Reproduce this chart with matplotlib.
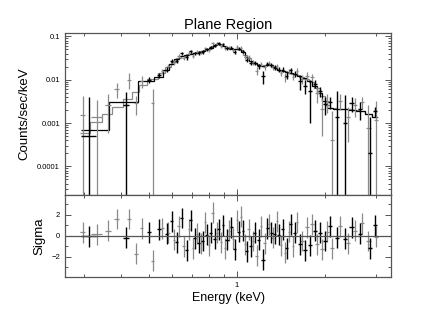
import matplotlib
matplotlib.use("Agg")
import matplotlib.pyplot as plt
import numpy as np
from matplotlib.ticker import LogLocator, MultipleLocator, NullFormatter, FixedLocator, FixedFormatter

plt.rcParams["font.family"] = ["Liberation Sans", "DejaVu Sans"]

# dataset 1 (black)
e1 = [0.311, 0.417, 0.500, 0.541, 0.576, 0.599, 0.622, 0.648, 0.674, 0.696,
      0.718, 0.741, 0.764, 0.789, 0.814, 0.841, 0.868, 0.896, 0.925, 0.955,
      0.984, 1.016, 1.049, 1.082, 1.117, 1.152, 1.190, 1.228, 1.268, 1.309,
      1.349, 1.392, 1.437, 1.483, 1.531, 1.580, 1.643, 1.710, 1.778, 1.850,
      1.924, 2.00, 2.08, 2.20, 2.34, 2.47, 2.64, 2.85, 2.97]
de1 = [0.018, 0.010, 0.008, 0.008, 0.007, 0.007, 0.007, 0.008, 0.008, 0.008,
       0.008, 0.009, 0.009, 0.009, 0.009, 0.010, 0.010, 0.010, 0.011, 0.011,
       0.011, 0.012, 0.012, 0.013, 0.013, 0.014, 0.014, 0.015, 0.015, 0.016,
       0.016, 0.017, 0.017, 0.018, 0.018, 0.019, 0.025, 0.025, 0.026, 0.027,
       0.028, 0.029, 0.030, 0.040, 0.040, 0.045, 0.050, 0.050, 0.040]
f1 = [5.0e-4, 2.6e-3, 1.0e-2, 1.26e-2, 1.70e-2, 2.73e-2, 2.76e-2, 4.07e-2, 3.27e-2, 4.57e-2,
      4.07e-2, 4.15e-2, 4.46e-2, 5.06e-2, 5.65e-2, 6.15e-2, 6.87e-2, 6.64e-2, 5.30e-2, 5.51e-2,
      4.40e-2, 5.20e-2, 4.48e-2, 2.87e-2, 2.45e-2, 2.48e-2, 2.04e-2, 1.20e-2, 2.34e-2, 2.22e-2,
      1.96e-2, 1.72e-2, 1.71e-2, 1.25e-2, 1.64e-2, 1.38e-2, 9.2e-3, 7.2e-3, 5.5e-3, 8.1e-3,
      5.4e-3, 2.7e-3, 3.1e-3, 1.4e-3, 1.0e-3, 2.9e-3, 2.1e-3, 2.0e-4, 1.88e-3]
err1 = [3.5e-3, 2.6e-3, 1.5e-3, 1.8e-3, 2.2e-3, 2.8e-3, 3.2e-3, 3.5e-3, 3.8e-3, 3.9e-3,
        4.0e-3, 4.2e-3, 4.4e-3, 4.6e-3, 5.0e-3, 5.5e-3, 5.6e-3, 5.4e-3, 5.0e-3, 4.8e-3,
        4.7e-3, 4.7e-3, 4.2e-3, 3.5e-3, 3.0e-3, 2.8e-3, 2.6e-3, 4.0e-3, 2.6e-3, 2.6e-3,
        2.4e-3, 2.3e-3, 2.2e-3, 2.2e-3, 2.1e-3, 2.1e-3, 3.5e-3, 2.5e-3, 4.5e-3, 1.8e-3,
        1.4e-3, 1.2e-3, 1.0e-3, 4.0e-3, 3.5e-3, 1.1e-3, 9.0e-4, 1.2e-3, 5.0e-4]
m1 = [6.8e-4, 3.1e-3, 9.5e-3, 1.15e-2, 1.66e-2, 2.34e-2, 2.95e-2, 3.47e-2, 3.80e-2, 3.98e-2,
      4.17e-2, 4.42e-2, 4.68e-2, 5.01e-2, 5.50e-2, 6.31e-2, 6.53e-2, 6.10e-2, 5.50e-2, 5.13e-2,
      5.01e-2, 5.01e-2, 4.27e-2, 3.39e-2, 2.75e-2, 2.40e-2, 2.14e-2, 2.11e-2, 2.16e-2, 2.14e-2,
      1.91e-2, 1.70e-2, 1.58e-2, 1.51e-2, 1.41e-2, 1.32e-2, 1.20e-2, 1.07e-2, 9.5e-3, 7.2e-3,
      5.0e-3, 3.3e-3, 2.24e-3, 2.16e-3, 2.09e-3, 2.04e-3, 1.91e-3, 1.62e-3, 1.38e-3]
r1 = [-0.05, -0.2, 0.35, 0.6, 0.2, 1.4, -0.6, 1.7, -1.4, 1.5,
      -0.25, -0.65, -0.5, 0.1, 0.3, -0.3, 0.6, 1.0, -0.4, 0.8,
      -1.3, 0.4, 0.5, -1.5, -1.0, 0.3, -0.4, -2.3, 0.7, 0.3,
      0.2, 0.1, 0.6, -1.2, 1.1, 0.3, -0.8, -1.4, -0.9, 0.5,
      0.3, -0.5, 0.9, -0.2, -0.3, 0.8, 0.2, -1.2, 1.0]

# dataset 2 (grey)
e2 = [0.297, 0.331, 0.362, 0.388, 0.427, 0.451, 0.472, 0.516, 0.556, 0.583,
      0.609, 0.633, 0.658, 0.685, 0.707, 0.730, 0.753, 0.777, 0.802, 0.827,
      0.854, 0.882, 0.910, 0.939, 0.969, 1.000, 1.032, 1.065, 1.099, 1.134,
      1.170, 1.208, 1.247, 1.287, 1.328, 1.371, 1.415, 1.460, 1.507, 1.555,
      1.605, 1.669, 1.737, 1.806, 1.880, 1.955, 2.04, 2.12, 2.25, 2.40,
      2.54, 2.68, 2.82, 2.99]
de2 = [0.006, 0.015, 0.009, 0.007, 0.007, 0.006, 0.006, 0.006, 0.006, 0.006,
       0.006, 0.007, 0.007, 0.007, 0.007, 0.008, 0.008, 0.008, 0.008, 0.009,
       0.009, 0.009, 0.010, 0.010, 0.010, 0.011, 0.011, 0.011, 0.012, 0.012,
       0.013, 0.013, 0.014, 0.014, 0.015, 0.015, 0.016, 0.016, 0.017, 0.017,
       0.018, 0.022, 0.022, 0.023, 0.024, 0.025, 0.026, 0.030, 0.040, 0.040,
       0.045, 0.050, 0.050, 0.050]
f2 = [1.55e-3, 1.38e-3, 2.6e-3, 6.2e-3, 1.0e-2, 2.9e-3, 9.5e-3, 2.9e-3, 1.56e-2, 2.08e-2,
      2.51e-2, 3.54e-2, 3.20e-2, 4.11e-2, 3.61e-2, 4.40e-2, 4.23e-2, 5.40e-2, 4.73e-2, 6.99e-2,
      6.93e-2, 5.99e-2, 5.29e-2, 5.61e-2, 4.87e-2, 5.70e-2, 5.52e-2, 3.42e-2, 3.36e-2, 2.49e-2,
      1.62e-2, 2.32e-2, 1.96e-2, 2.49e-2, 1.95e-2, 2.10e-2, 1.42e-2, 1.15e-2, 1.54e-2, 1.17e-2,
      1.60e-2, 1.05e-2, 1.24e-2, 1.15e-2, 4.9e-3, 2.1e-3, 3.2e-3, 4.1e-4, 3.3e-3, 1.37e-3,
      2.6e-3, 3.06e-3, 7.6e-4, 1.15e-3]
err2 = [2.7e-3, 2.0e-3, 2.0e-3, 2.4e-3, 4.0e-3, 1.4e-3, 3.0e-3, 3.2e-3, 2.2e-3, 2.6e-3,
        3.0e-3, 3.3e-3, 3.5e-3, 3.7e-3, 3.8e-3, 4.0e-3, 4.1e-3, 4.3e-3, 4.5e-3, 5.0e-3,
        5.5e-3, 5.3e-3, 5.0e-3, 4.8e-3, 4.6e-3, 4.6e-3, 4.4e-3, 3.7e-3, 3.3e-3, 2.9e-3,
        3.5e-3, 2.6e-3, 2.6e-3, 2.7e-3, 2.5e-3, 2.3e-3, 2.2e-3, 2.5e-3, 2.1e-3, 2.1e-3,
        2.6e-3, 2.5e-3, 2.4e-3, 2.4e-3, 2.0e-3, 1.6e-3, 1.5e-3, 1.5e-3, 1.3e-3, 1.0e-3,
        1.2e-3, 1.0e-3, 1.8e-3, 2.0e-3]
m2 = [5.75e-4, 1.07e-3, 1.58e-3, 2.29e-3, 3.63e-3, 5.25e-3, 7.41e-3, 1.05e-2, 1.41e-2, 2.00e-2,
      2.63e-2, 3.24e-2, 3.55e-2, 3.89e-2, 4.07e-2, 4.32e-2, 4.52e-2, 4.84e-2, 5.13e-2, 5.89e-2,
      6.76e-2, 6.31e-2, 5.89e-2, 5.37e-2, 5.01e-2, 5.01e-2, 4.73e-2, 3.72e-2, 3.16e-2, 2.63e-2,
      2.29e-2, 2.09e-2, 2.14e-2, 2.19e-2, 2.00e-2, 1.78e-2, 1.62e-2, 1.55e-2, 1.46e-2, 1.38e-2,
      1.26e-2, 1.17e-2, 1.05e-2, 8.9e-3, 6.5e-3, 4.2e-3, 2.63e-3, 2.21e-3, 2.14e-3, 2.07e-3,
      2.0e-3, 1.86e-3, 1.66e-3, 1.35e-3]
r2 = [0.35, 0.15, 0.5, 1.6, 1.6, -1.7, 0.7, -2.4, 0.7, 0.3,
      -0.4, 0.9, -1.0, 0.6, -1.2, 0.2, -0.7, 1.3, -0.9, 2.2,
      0.3, -0.6, -1.2, 0.5, -0.3, 1.5, 1.8, -0.8, 0.6, -0.5,
      -1.9, 0.9, -0.7, 1.1, -0.2, 1.4, -0.9, -1.6, 0.4, -1.0,
      1.3, -0.5, 0.8, 1.1, -0.8, -1.3, 0.4, -1.2, 0.9, -0.7,
      0.5, 1.2, -0.5, -0.1]

datasets = [
    (e1, de1, f1, err1, m1, r1, "black", 1.0),
    (e2, de2, f2, err2, m2, r2, "#8a8a8a", 0.9),
]

fig = plt.figure(figsize=(4.36, 3.26), dpi=100)
ax = fig.add_axes([0.149, 0.402, 0.748, 0.497])
axr = fig.add_axes([0.149, 0.150, 0.748, 0.252], sharex=ax)

ymin = 2.2e-5
for e, de, f, err, m, r, col, lw in reversed(datasets):
    e = np.array(e); de = np.array(de); f = np.array(f); err = np.array(err)
    lower = np.minimum(err, f - ymin * 0.5)
    ax.errorbar(e, f, yerr=[lower, err], xerr=de, fmt="none", ecolor=col, elinewidth=lw)
    edges = np.concatenate([[e[0] - de[0]], (e[:-1] + e[1:]) / 2, [e[-1] + de[-1]]])
    ax.stairs(m, edges, color=col, lw=0.9, baseline=None)
    axr.errorbar(e, r, yerr=1.0, xerr=de, fmt="none", ecolor=col, elinewidth=lw)

ax.set_xscale("log")
ax.set_yscale("log")
ax.set_xlim(0.258, 3.37)
ax.set_ylim(ymin, 0.12)
axr.set_ylim(-3.95, 3.9)
axr.axhline(0, color="#555555", lw=0.9)

ax.set_title("Plane Region", fontsize=10.5, pad=3)
ax.set_ylabel("Counts/sec/keV", fontsize=9.5, labelpad=5)
axr.set_ylabel("Sigma", fontsize=9.5, labelpad=4)
axr.set_xlabel("Energy (keV)", fontsize=9, labelpad=2)

xmaj = [1.0]
xmin = [0.3, 0.4, 0.5, 0.6, 0.7, 0.8, 0.9, 2.0, 3.0]
for a in (ax, axr):
    a.xaxis.set_major_locator(FixedLocator(xmaj))
    a.xaxis.set_minor_locator(FixedLocator(xmin))
    a.xaxis.set_minor_formatter(NullFormatter())
    a.tick_params(which="both", direction="in", top=True, right=True,
                  labelsize=5.5, color="#555555", width=0.7)
    a.tick_params(which="major", length=4)
    a.tick_params(which="minor", length=2)
    for s in a.spines.values():
        s.set_color("#555555")
        s.set_linewidth(0.9)

ax.xaxis.set_major_formatter(NullFormatter())
axr.xaxis.set_major_formatter(FixedFormatter(["1"]))
ax.yaxis.set_minor_locator(LogLocator(base=10, subs=np.arange(2, 10), numticks=10))
ax.yaxis.set_minor_formatter(NullFormatter())
ax.set_yticks([1e-4, 1e-3, 1e-2, 1e-1])
ax.set_yticklabels(["0.0001", "0.001", "0.01", "0.1"])
axr.yaxis.set_major_locator(MultipleLocator(2))
axr.yaxis.set_minor_locator(MultipleLocator(1))

fig.savefig("out.png", dpi=100)
